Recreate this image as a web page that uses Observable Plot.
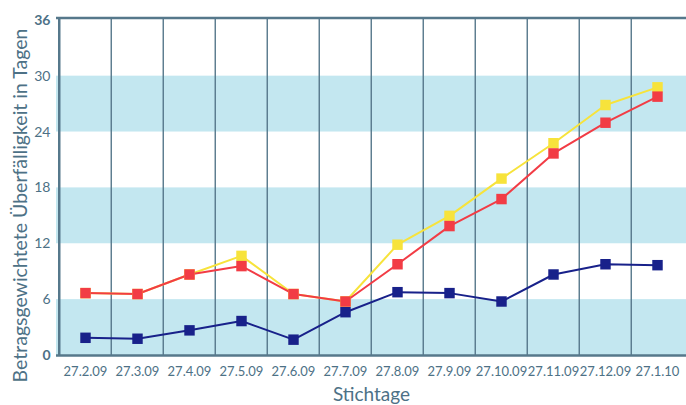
<!DOCTYPE html>
<html>
<head>
<meta charset="utf-8">
<script src="https://cdn.jsdelivr.net/npm/d3@7"></script>
<script src="https://cdn.jsdelivr.net/npm/@observablehq/plot@0.6"></script>
<style>
  html, body { margin: 0; padding: 0; background: #fff; }
  svg { display: block; }
</style>
</head>
<body>
<div id="chart"></div>
<script>
const categories = ["27.2.09","27.3.09","27.4.09","27.5.09","27.6.09","27.7.09","27.8.09","27.9.09","27.10.09","27.11.09","27.12.09","27.1.10"];
const yellowValues = [6.7, 6.6, 8.7, 10.7, 6.6, 5.8, 11.9, 15.0, 19.0, 22.8, 26.9, 28.8];
const redValues    = [6.7, 6.6, 8.7, 9.6, 6.6, 5.8, 9.8, 13.9, 16.8, 21.7, 25.0, 27.8];
const blueValues   = [1.9, 1.8, 2.7, 3.7, 1.7, 4.65, 6.8, 6.7, 5.8, 8.7, 9.8, 9.7];
const yTicksNormal = [6, 12, 18, 24, 30];
const yTicksBold = [0, 36];
const bands = [[0, 6], [12, 18], [24, 30]];
const yTitle = "Betragsgewichtete Überfälligkeit in Tagen";
const xTitle = "Stichtage";

const series = [
  {name: "gelb", values: yellowValues, color: "#f7e33b"},
  {name: "rot", values: redValues, color: "#f23c45"},
  {name: "blau", values: blueValues, color: "#18218a"}
];
const rows = series.flatMap(s => s.values.map((v, i) => ({series: s.name, date: categories[i], value: v, color: s.color})));

const W = 686, H = 405, ML = 56, MR = 0;
const bw = (W - ML - MR) / categories.length;
const textColor = "#4d7186";
const gridColor = "#56788b";

const chart = Plot.plot({
  width: W,
  height: H,
  marginLeft: ML,
  marginRight: MR,
  marginTop: 17,
  marginBottom: 50,
  style: {fontFamily: "Lato, 'Open Sans', sans-serif", background: "#fff"},
  x: {type: "point", domain: categories, padding: 0.5},
  y: {domain: [0, 36.3]},
  marks: [
    Plot.rect(bands, {y1: d => d[0], y2: d => d[1], fill: "#c3e7f0"}),
    Plot.ruleX(categories.slice(1), {dx: -bw / 2, stroke: gridColor, strokeWidth: 1.4}),
    Plot.ruleX(categories.slice(0, 1), {dx: -bw / 2, stroke: gridColor, strokeWidth: 2.5}),
    Plot.ruleY([0], {stroke: gridColor, strokeWidth: 2.5}),
    Plot.ruleY([36.3], {stroke: gridColor, strokeWidth: 2.5, dy: 0.5}),
    ...series.map(s => Plot.line(rows.filter(r => r.series === s.name), {x: "date", y: "value", stroke: s.color, strokeWidth: 2})),
    ...series.map(s => Plot.dot(rows.filter(r => r.series === s.name), {x: "date", y: "value", symbol: "square", r: 5.9, fill: s.color, stroke: "none"})),
    Plot.axisX({tickSize: 0, tickPadding: 11, fontSize: 13, fill: textColor, label: null}),
    Plot.axisY({ticks: yTicksNormal, tickSize: 0, tickPadding: 6, fontSize: 14, fill: textColor, label: null}),
    Plot.axisY({ticks: yTicksBold, tickSize: 0, tickPadding: 6, fontSize: 14, fontWeight: "bold", fill: textColor, label: null}),
    Plot.text([yTitle], {text: d => d, frameAnchor: "left", textAnchor: "middle", lineAnchor: "middle", rotate: -90, dx: -36, dy: 19, fontSize: 19.5, fill: textColor}),
    Plot.text([xTitle], {text: d => d, frameAnchor: "bottom", lineAnchor: "middle", dy: 39, fontSize: 19, fill: textColor})
  ]
});
document.getElementById("chart").appendChild(chart);
</script>
</body>
</html>
